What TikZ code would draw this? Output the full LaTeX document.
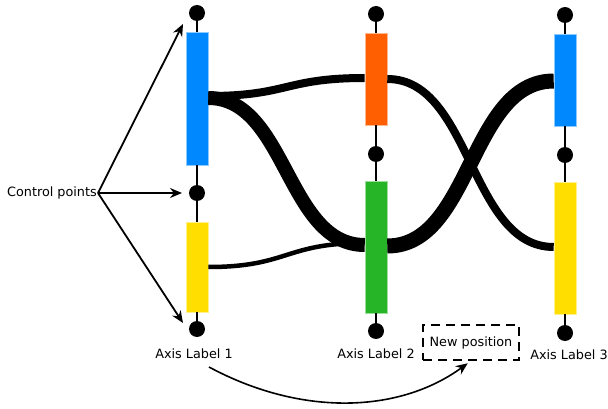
\documentclass[tikz,border=0pt]{standalone}
\usepackage{fontspec}
\setmainfont{DejaVu Sans}
\usetikzlibrary{arrows.meta,calc}
\definecolor{barBlue}{HTML}{0088FF}
\definecolor{barOrange}{HTML}{FF5F00}
\definecolor{barGreen}{HTML}{26B526}
\definecolor{barYellow}{HTML}{FFDE00}
\tikzset{
  category bar/.style={
    rectangle,
    fill=#1,
    draw=#1!45!white,
    line width=0.6pt,
    minimum width=22pt,
    inner sep=0pt
  },
  control dot/.style={
    circle,
    fill=black,
    minimum size=16pt,
    inner sep=0pt
  },
  axis stem/.style={
    draw=black,
    line width=2pt
  },
  ribbon/.style={
    draw=black,
    line cap=butt
  },
  axis label/.style={
    font=\fontsize{12.8}{15}\selectfont,
    inner sep=1pt
  },
  pointer edge/.style={
    -{Stealth[length=12pt,width=10pt]},
    draw=black,
    line width=1.8pt
  },
  move box/.style={
    draw=black,
    dash pattern=on 9pt off 6pt,
    line width=1.8pt,
    minimum width=96pt,
    minimum height=35pt,
    font=\fontsize{12.8}{15}\selectfont
  }
}

\begin{document}
\begin{tikzpicture}[x=1pt,y=-1pt]
  \useasboundingbox (0,0) rectangle (608,409);

  % first axis
  \node[control dot] (topOne) at (197,13) {};
  \node[category bar=barBlue,minimum height=133pt] (blueOne) at (197,98.5) {};
  \node[control dot] (midOne) at (197,193) {};
  \node[category bar=barYellow,minimum height=90pt] (yellowOne) at (197,267) {};
  \node[control dot] (botOne) at (197,329) {};
  \node[axis label] (labelOne) at (194,354) {Axis Label 1};

  % second axis
  \node[control dot] (topTwo) at (376,14) {};
  \node[category bar=barOrange,minimum height=92pt] (orangeTwo) at (376,79) {};
  \node[control dot] (midTwo) at (376,154) {};
  \node[category bar=barGreen,minimum height=132pt] (greenTwo) at (376,247) {};
  \node[control dot] (botTwo) at (376,331) {};
  \node[axis label] (labelTwo) at (376,354) {Axis Label 2};

  % third axis
  \node[control dot] (topThree) at (565,15) {};
  \node[category bar=barBlue,minimum height=92pt] (blueThree) at (565,80) {};
  \node[control dot] (midThree) at (565,155) {};
  \node[category bar=barYellow,minimum height=132pt] (yellowThree) at (565,248) {};
  \node[control dot] (botThree) at (565,333) {};
  \node[axis label] (labelThree) at (569,355) {Axis Label 3};

  \draw[axis stem] (topOne) -- (blueOne) (blueOne) -- (midOne)
    (midOne) -- (yellowOne) (yellowOne) -- (botOne);
  \draw[axis stem] (topTwo) -- (orangeTwo) (orangeTwo) -- (midTwo)
    (midTwo) -- (greenTwo) (greenTwo) -- (botTwo);
  \draw[axis stem] (topThree) -- (blueThree) (blueThree) -- (midThree)
    (midThree) -- (yellowThree) (yellowThree) -- (botThree);

  % ribbons between the axes
  \draw[ribbon,line width=14pt] ([yshift=0.5pt]blueOne.east)
    .. controls +(78,0) and +(-78,0) .. ([yshift=2pt]greenTwo.west);
  \draw[ribbon,line width=8pt] ([yshift=2.5pt]blueOne.east)
    .. controls +(80,0) and +(-80,0) .. ([yshift=1pt]orangeTwo.west);
  \draw[ribbon,line width=4.5pt] (yellowOne.east)
    .. controls +(80,0) and +(-80,0) .. ([yshift=4pt]greenTwo.west);
  \draw[ribbon,line width=8pt] (orangeTwo.east)
    .. controls +(84,0) and +(-84,0) .. ([yshift=1pt]yellowThree.west);
  \draw[ribbon,line width=15pt] ([yshift=1pt]greenTwo.east)
    .. controls +(84,0) and +(-84,0) .. ([yshift=-1pt]blueThree.west);

  % control point pointers
  \node[axis label,anchor=east] (ctrlText) at (98,193) {Control points};
  \coordinate (ctrlTopTip) at (183,24);
  \coordinate (ctrlMidTip) at (182,193);
  \coordinate (ctrlBotTip) at (183,323);
  \draw[pointer edge] (ctrlText.east) -- (ctrlTopTip);
  \draw[pointer edge] (ctrlText.east) -- (ctrlMidTip);
  \draw[pointer edge] (ctrlText.east) -- (ctrlBotTip);

  % moving an axis
  \node[move box] (newPos) at (471,342.5) {New position};
  \coordinate (moveStart) at (209,367);
  \draw[pointer edge,line width=1.6pt,shorten >=4pt] (moveStart)
    .. controls (300,416) and (398,414) .. (newPos.south);
\end{tikzpicture}
\end{document}
